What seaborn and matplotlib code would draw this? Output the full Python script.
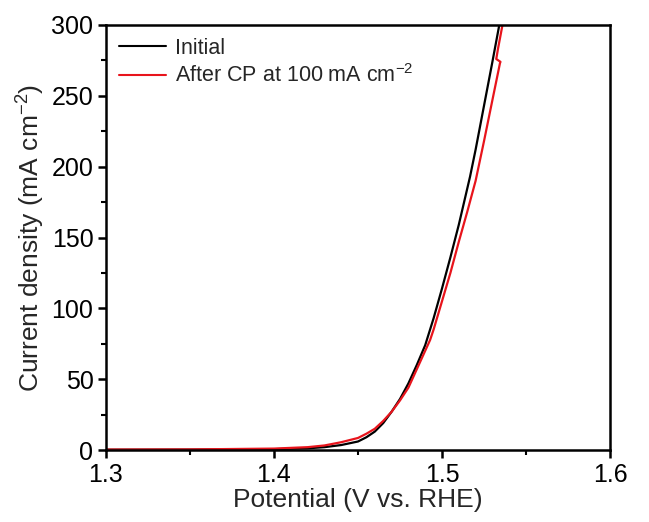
import numpy as np
import pandas as pd
import matplotlib
matplotlib.use("Agg")
import matplotlib.pyplot as plt
import seaborn as sns
from matplotlib.ticker import MultipleLocator

sns.set_theme(style="ticks")
plt.rcParams['font.family'] = ['Liberation Sans', 'DejaVu Sans']
plt.rcParams['mathtext.default'] = 'regular'

# Data (Potential V vs RHE, current density mA cm-2)
v_initial = [1.30, 1.35, 1.40, 1.42, 1.43, 1.44, 1.45, 1.455, 1.46, 1.465, 1.47,
             1.475, 1.48, 1.485, 1.49, 1.495, 1.50, 1.505, 1.51, 1.5167, 1.52,
             1.525, 1.53, 1.5341]
j_initial = [0.2, 0.3, 0.6, 1.2, 2.0, 3.5, 6.0, 9, 13, 19, 27,
             36, 47, 60, 74, 93, 114, 136, 159, 193, 212,
             243, 274, 300]

v_after = [1.30, 1.35, 1.40, 1.42, 1.43, 1.44, 1.45, 1.455, 1.46, 1.465, 1.47,
           1.475, 1.48, 1.485, 1.4929, 1.495, 1.50, 1.505, 1.51, 1.515, 1.52,
           1.525, 1.53, 1.5345, 1.5348, 1.5323, 1.5333, 1.536]
j_after = [0.3, 0.4, 1.0, 2.0, 3.2, 5.5, 8.5, 11.5, 15, 20.5, 27,
           35, 44, 57, 77.6, 85, 105, 125, 147, 168, 190,
           218, 247, 273, 274, 276, 283, 300]

labels = ["Initial", "After CP at 100 mA cm$^{-2}$"]
colors = ["black", "#e8141c"]

df = pd.concat([
    pd.DataFrame({"V": v_initial, "J": j_initial, "s": labels[0]}),
    pd.DataFrame({"V": v_after, "J": j_after, "s": labels[1]}),
])

fig = plt.figure(figsize=(6.49, 5.22), dpi=100)
ax = fig.add_axes([106/649, 1-450/522, (610-106)/649, (450-25)/522])

sns.lineplot(data=df, x="V", y="J", hue="s", palette=dict(zip(labels, colors)),
             sort=False, estimator=None, linewidth=1.6, ax=ax)

ax.set_xlim(1.3, 1.6)
ax.set_ylim(0, 300)
ax.xaxis.set_minor_locator(MultipleLocator(0.05))
ax.yaxis.set_major_locator(MultipleLocator(50))
ax.yaxis.set_minor_locator(MultipleLocator(25))
ax.set_xticks([1.3, 1.4, 1.5, 1.6])
ax.set_xticklabels(["1.3", "1.4", "1.5", "1.6"])

for sp in ax.spines.values():
    sp.set_linewidth(1.8)
    sp.set_color("black")
ax.tick_params(which="major", direction="out", length=6, width=1.8,
               labelsize=18, colors="black", pad=3)
ax.tick_params(which="minor", direction="out", length=3.5, width=1.5,
               colors="black")

ax.set_xlabel("Potential (V vs. RHE)", fontsize=19, labelpad=1)
ax.set_ylabel("Current density (mA cm$^{-2}$)", fontsize=19, labelpad=3)

leg = ax.legend(loc="upper left", frameon=False, fontsize=15.5,
                handlelength=2.2, handletextpad=0.4, borderaxespad=0.3,
                borderpad=0.3, labelspacing=0.25)
for h in leg.get_lines():
    h.set_linewidth(1.5)

fig.savefig("out.png", dpi=100)
